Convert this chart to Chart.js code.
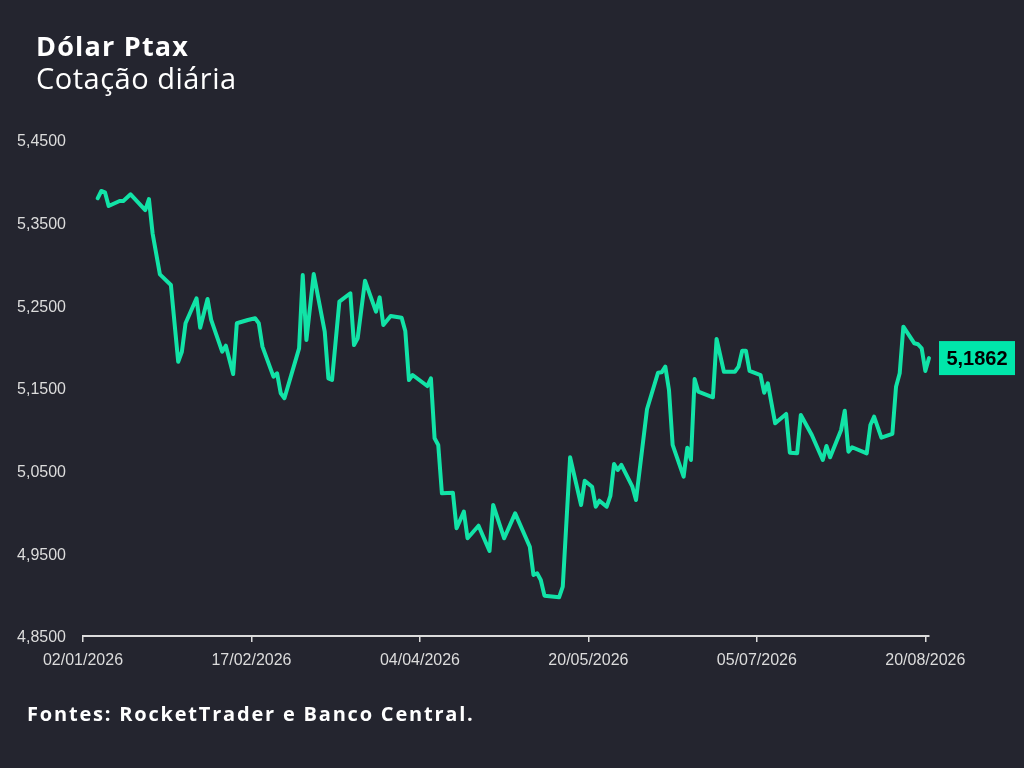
<!DOCTYPE html>
<html>
<head>
<meta charset="utf-8">
<script src="https://cdn.jsdelivr.net/npm/chart.js@4.4.1/dist/chart.umd.min.js"></script>
<style>
  html, body { margin: 0; padding: 0; background: #24252f; }
  body { width: 1024px; height: 768px; position: relative; overflow: hidden; }
  #wrap { position: absolute; left: 0; top: 0; width: 1024px; height: 768px; }
  .txt { position: absolute; color: #ffffff; font-family: "Open Sans", sans-serif; line-height: 1; white-space: nowrap; z-index: 2; }
  #title { left: 36px; top: 32px; font-size: 27px; font-weight: 700; letter-spacing: 1.2px; }
  #subtitle { left: 36px; top: 63px; font-size: 29px; font-weight: 400; letter-spacing: 0.5px; }
  #footer { left: 27px; top: 704px; font-size: 20px; font-weight: 700; letter-spacing: 1.8px; }
</style>
</head>
<body>
<div id="title" class="txt">Dólar Ptax</div>
<div id="subtitle" class="txt">Cotação diária</div>
<div id="footer" class="txt">Fontes: RocketTrader e Banco Central.</div>
<div id="wrap"><canvas id="c" width="1024" height="768"></canvas></div>
<script>
// ---- DATA ----
const startDate = "2026-01-02";
const xTickDates = ["2026-01-02", "2026-02-17", "2026-04-04", "2026-05-20", "2026-07-05", "2026-08-20"];
const yTicks = [4.85, 4.95, 5.05, 5.15, 5.25, 5.35, 5.45];
const dates = [
  "2026-01-06","2026-01-07","2026-01-08","2026-01-09","2026-01-12","2026-01-13","2026-01-15","2026-01-19","2026-01-20","2026-01-21",
  "2026-01-23","2026-01-26","2026-01-28","2026-01-29","2026-01-30","2026-02-02","2026-02-03","2026-02-05","2026-02-06","2026-02-09",
  "2026-02-10","2026-02-12","2026-02-13","2026-02-16","2026-02-18","2026-02-19","2026-02-20","2026-02-23","2026-02-24","2026-02-25",
  "2026-02-26","2026-03-02","2026-03-03","2026-03-04","2026-03-06","2026-03-09","2026-03-10","2026-03-11","2026-03-13","2026-03-16",
  "2026-03-17","2026-03-18","2026-03-20","2026-03-23","2026-03-24","2026-03-25","2026-03-27","2026-03-30","2026-03-31","2026-04-01",
  "2026-04-02","2026-04-06","2026-04-07","2026-04-08","2026-04-09","2026-04-10","2026-04-13","2026-04-14","2026-04-16","2026-04-17",
  "2026-04-20","2026-04-23","2026-04-24","2026-04-27","2026-04-30","2026-05-04","2026-05-05","2026-05-06","2026-05-07","2026-05-08",
  "2026-05-12","2026-05-13","2026-05-15","2026-05-18","2026-05-19","2026-05-21","2026-05-22","2026-05-23","2026-05-25","2026-05-26",
  "2026-05-27","2026-05-28","2026-05-29","2026-06-01","2026-06-02","2026-06-05","2026-06-08","2026-06-09","2026-06-10","2026-06-11",
  "2026-06-12","2026-06-15","2026-06-16","2026-06-17","2026-06-18","2026-06-19","2026-06-23","2026-06-24","2026-06-26","2026-06-29",
  "2026-06-30","2026-07-01","2026-07-02","2026-07-03","2026-07-06","2026-07-07","2026-07-08","2026-07-10","2026-07-13","2026-07-14",
  "2026-07-16","2026-07-17","2026-07-20","2026-07-23","2026-07-24","2026-07-25","2026-07-28","2026-07-29","2026-07-30","2026-07-31",
  "2026-08-04","2026-08-05","2026-08-06","2026-08-08","2026-08-11","2026-08-12","2026-08-13","2026-08-14","2026-08-17","2026-08-18",
  "2026-08-19","2026-08-20","2026-08-21"
];
const ptax = [
  5.3795,5.3883,5.3867,5.3702,5.3762,5.3762,5.3843,5.3653,5.3786,5.3371,
  5.2875,5.2746,5.1818,5.1939,5.2283,5.2585,5.2229,5.2577,5.2323,5.1939,
  5.2012,5.1669,5.2283,5.2323,5.2343,5.2283,5.2000,5.1637,5.1678,5.1436,
  5.1376,5.1980,5.2867,5.2081,5.2879,5.2181,5.1617,5.1597,5.2544,5.2646,
  5.2020,5.2101,5.2798,5.2423,5.2597,5.2262,5.2371,5.2350,5.2190,5.1597,
  5.1657,5.1524,5.1617,5.0892,5.0811,5.0226,5.0234,4.9803,5.0004,4.9682,
  4.9834,4.9528,5.0085,4.9682,4.9984,4.9580,4.9238,4.9259,4.9178,4.8988,
  4.8968,4.9097,5.0662,5.0085,5.0379,5.0306,5.0064,5.0137,5.0064,5.0194,
  5.0581,5.0508,5.0569,5.0306,5.0145,5.1243,5.1685,5.1690,5.1758,5.1476,
  5.0811,5.0427,5.0778,5.0629,5.1609,5.1455,5.1388,5.2093,5.1697,5.1697,
  5.1758,5.1951,5.1951,5.1706,5.1657,5.1443,5.1557,5.1073,5.1186,5.0718,
  5.0710,5.1174,5.0932,5.0629,5.0799,5.0662,5.0992,5.1225,5.0730,5.0783,
  5.0710,5.1053,5.1153,5.0899,5.0944,5.1516,5.1678,5.2242,5.2041,5.2029,
  5.1981,5.1706,5.1862
];

// ---- helpers ----
const DAY = 86400000;
function toDay(s) {
  const [y, m, d] = s.split("-").map(Number);
  const [y0, m0, d0] = startDate.split("-").map(Number);
  return Math.round((Date.UTC(y, m - 1, d) - Date.UTC(y0, m0 - 1, d0)) / DAY);
}
function fmtDate(dayOffset) {
  const [y0, m0, d0] = startDate.split("-").map(Number);
  const dt = new Date(Date.UTC(y0, m0 - 1, d0) + dayOffset * DAY);
  const dd = String(dt.getUTCDate()).padStart(2, "0");
  const mm = String(dt.getUTCMonth() + 1).padStart(2, "0");
  return dd + "/" + mm + "/" + dt.getUTCFullYear();
}
function fmtNum(v, dec) { return v.toFixed(dec).replace(".", ","); }

const points = dates.map((d, i) => ({ x: toDay(d), y: ptax[i] }));
const xTickDays = xTickDates.map(toDay);

const LINE = "#12e3a7";
const BOX = "#00e6aa";
const TICK_COLOR = "#dcdcdc";

const lastLabel = {
  id: "lastLabel",
  afterDatasetsDraw(chart) {
    const meta = chart.getDatasetMeta(0);
    const el = meta.data[meta.data.length - 1];
    const v = ptax[ptax.length - 1];
    const ctx = chart.ctx;
    ctx.save();
    const w = 76, h = 34;
    const bx = el.x + 10, by = el.y - h / 2;
    ctx.fillStyle = BOX;
    ctx.fillRect(bx, by, w, h);
    ctx.fillStyle = "#000000";
    ctx.font = "bold 20px 'Liberation Sans', Arial, sans-serif";
    ctx.textAlign = "center";
    ctx.textBaseline = "middle";
    ctx.fillText(fmtNum(v, 4), bx + w / 2, by + h / 2 + 1);
    ctx.restore();
  }
};

new Chart(document.getElementById("c"), {
  type: "line",
  data: {
    datasets: [{
      data: points,
      borderColor: LINE,
      borderWidth: 4,
      pointRadius: 0,
      tension: 0,
      borderJoinStyle: "round",
      borderCapStyle: "round",
      clip: false
    }]
  },
  options: {
    responsive: false,
    animation: false,
    devicePixelRatio: 1,
    layout: { padding: { left: 0, right: 95, top: 140, bottom: 0 } },
    plugins: { legend: { display: false }, tooltip: { enabled: false } },
    scales: {
      x: {
        type: "linear",
        min: 0,
        max: 231,
        afterBuildTicks(scale) { scale.ticks = xTickDays.map(v => ({ value: v })); },
        afterFit(scale) { scale.height = 132; },
        grid: { display: true, drawOnChartArea: false, drawTicks: true, tickLength: 6, color: TICK_COLOR, lineWidth: 1.5 },
        border: { display: true, color: TICK_COLOR, width: 2 },
        ticks: {
          color: TICK_COLOR,
          padding: 9,
          maxRotation: 0,
          autoSkip: false,
          font: { family: "'Liberation Sans', Arial, sans-serif", size: 16 },
          callback: (v) => fmtDate(v)
        }
      },
      y: {
        min: yTicks[0],
        max: yTicks[yTicks.length - 1],
        afterBuildTicks(scale) { scale.ticks = yTicks.map(v => ({ value: v })); },
        afterFit(scale) { scale.width = 83; },
        grid: { display: false, drawTicks: false },
        border: { display: false },
        ticks: {
          color: TICK_COLOR,
          padding: 17,
          labelOffset: 2,
          font: { family: "'Liberation Sans', Arial, sans-serif", size: 16 },
          callback: (v) => fmtNum(v, 4)
        }
      }
    }
  },
  plugins: [lastLabel]
});
</script>
</body>
</html>
